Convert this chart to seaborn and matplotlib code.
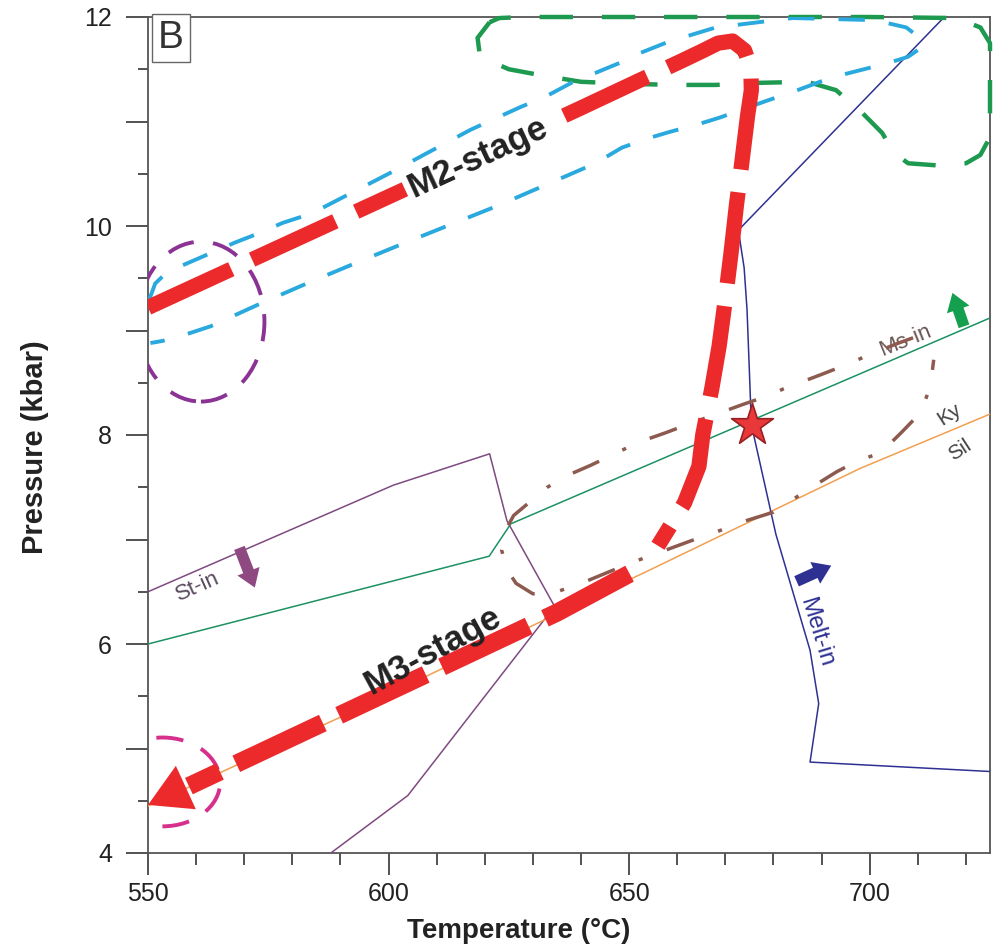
import matplotlib
matplotlib.use("Agg")
import matplotlib.pyplot as plt
import seaborn as sns
from matplotlib.patches import Ellipse
from matplotlib.ticker import MultipleLocator, FuncFormatter

# ---------------- data ----------------
# St-in boundary (purple, thin)
T_stin = [550, 601, 621, 624.6, 634.5, 604, 588]
P_stin = [6.5, 7.52, 7.82, 7.18, 6.36, 4.55, 4.0]

# Ms-in line (green, thin)
T_msin = [550, 620.9, 625.4, 725]
P_msin = [6.0, 6.84, 7.15, 9.12]

# Ky / Sil line (orange, thin)
T_kysil = [550, 590, 631, 653, 698, 725]
P_kysil = [4.45, 5.3, 6.2, 6.68, 7.68, 8.2]

# Melt-in line (navy, thin)
T_melt = [715.5, 672.7, 673.9, 674.5, 675.0, 675.4, 680.5, 687.6, 689.4, 687.6, 725]
P_melt = [12.0, 9.96, 9.6, 9.2, 8.6, 8.1, 7.05, 5.94, 5.43, 4.87, 4.78]

# M2-stage P-T path (red, thick dashed)
T_m2 = [550, 575, 600, 625, 640, 652, 660, 665, 668.5, 671.5, 674, 675.3, 675.4, 674.6,
        673.4, 672.3, 671.2, 670.0, 668.7, 667.2, 665.3, 664.5, 661.5, 656.0]
P_m2 = [9.22, 9.75, 10.28, 10.81, 11.13, 11.39, 11.56, 11.67, 11.75, 11.77, 11.68, 11.5, 11.3, 11.05,
        10.6, 10.2, 9.75, 9.3, 8.85, 8.45, 8.0, 7.7, 7.35, 6.94]

# M3-stage P-T path (red, thicker dashed), drawn from the arrow base upward
T_m3 = [558.5, 635, 652]
P_m3 = [4.64, 6.3, 6.72]
# arrow head: base -> tip
T_m3_tip = [558.5, 550.0]
P_m3_tip = [4.64, 4.46]

# cyan dashed envelope around M2 path
T_cy = [550.3, 551.5, 554, 558, 563, 568, 573, 578, 584, 600, 617, 627.5, 632.3, 638, 648, 652,
        658, 668, 684, 701, 707.6, 711, 710.5, 708, 706, 700.5, 692, 685, 678.7, 675, 669, 664.8,
        658.4, 654, 648.5, 643, 638, 623, 604, 593.4, 583, 573, 563, 557.7, 553, 550.5]
P_cy = [9.3, 9.45, 9.56, 9.64, 9.74, 9.84, 9.93, 10.03, 10.12, 10.5, 10.92, 11.14, 11.23, 11.37, 11.56, 11.65,
        11.76, 11.9, 11.99, 11.97, 11.9, 11.78, 11.7, 11.62, 11.59, 11.52, 11.42, 11.3, 11.2, 11.14, 11.04, 10.98,
        10.9, 10.84, 10.75, 10.6, 10.5, 10.2, 9.85, 9.65, 9.45, 9.25, 9.04, 8.96, 8.9, 8.88]

# green dashed field (top right)
T_gr = [621, 618.5, 619, 625, 632, 640, 650, 660, 668, 677, 687, 693, 698.5, 702.6, 705, 708, 714,
        720, 723, 725, 725, 725, 723, 718, 700, 680, 660, 640, 628, 623, 621]
P_gr = [11.95, 11.8, 11.62, 11.5, 11.44, 11.38, 11.36, 11.35, 11.35, 11.37, 11.38, 11.3, 11.08, 10.89, 10.7, 10.6, 10.58,
        10.6, 10.68, 10.85, 11.3, 11.75, 11.9, 11.99, 12, 12, 12, 12, 12, 11.99, 11.95]

# brown dash-dot lens (Ms-in / Ky region)
T_br = [709, 706, 700, 695, 690, 682, 678.5, 673.5, 669.3, 662.7, 657.5, 651.9, 647, 642, 636.5, 633,
        626, 624.2, 623.5, 624.5, 626.5, 630, 635, 640, 650, 663, 668, 673.6, 679.9, 687.6, 693.2,
        697.4, 702.3, 706.5, 710.5, 712.6, 713.3]
P_br = [8.93, 8.88, 8.77, 8.67, 8.58, 8.44, 8.37, 8.29, 8.22, 8.11, 8.02, 7.93, 7.82, 7.71, 7.6, 7.5,
        7.23, 7.08, 6.9, 6.72, 6.58, 6.48, 6.5, 6.58, 6.77, 6.99, 7.07, 7.17, 7.26, 7.49, 7.65,
        7.75, 7.83, 8.02, 8.21, 8.46, 8.72]

# dashed circles (center T, center P, width T, height P)
circ_purple = (561.0, 9.085, 26.4, 1.53)
circ_pink = (553.0, 4.68, 24.0, 0.85)

# peak star
T_star = [675.5]
P_star = [8.1]

# small block arrows: (T_tail, P_tail, T_head, P_head)
arr_stin = (569.0, 6.92, 572.2, 6.54)
arr_melt = (684.8, 6.60, 692.0, 6.75)
arr_msin = (719.6, 9.04, 717.2, 9.36)

# tick values
x_major = [550, 600, 650, 700]
y_labels = [4, 6, 8, 10, 12]

# ---------------- style ----------------
sns.set_theme(style="ticks")
plt.rcParams["font.family"] = ["Liberation Sans", "DejaVu Sans"]

RED = "#ec2a2c"
CYAN = "#2aa9df"
GREEN_D = "#1e9a50"
PURPLE_C = "#8a3394"
PINK_C = "#d6308c"
STIN = "#7e4a80"
MSIN = "#1c9162"
KYSIL = "#f0a050"
MELT = "#2e3192"
BROWN = "#8c5a4e"

fig = plt.figure(figsize=(9.94, 9.5), dpi=100)
ax = fig.add_axes([148 / 994, 1 - 853 / 950, 842 / 994, 836 / 950])
ax.set_xlim(550, 725)
ax.set_ylim(4, 12)
ax.set_facecolor("white")


def line(T, P, **kw):
    sns.lineplot(x=T, y=P, sort=False, estimator=None, errorbar=None, ax=ax, legend=False, **kw)


# thin phase boundaries
line(T_stin, P_stin, color=STIN, lw=1.1, zorder=3)
line(T_msin, P_msin, color=MSIN, lw=1.1, zorder=3)
line(T_kysil, P_kysil, color=KYSIL, lw=1.1, zorder=3)
line(T_melt, P_melt, color=MELT, lw=1.1, zorder=3)

# dashed fields
line(T_gr, P_gr, color=GREEN_D, lw=3.2, linestyle=(0, (7.5, 6.5)), zorder=4, clip_on=False)
line(T_cy, P_cy, color=CYAN, lw=2.8, linestyle=(0, (6.8, 6.2)), zorder=4)
line(T_br, P_br, color=BROWN, lw=2.5, linestyle=(0, (8.3, 7.4, 1.2, 7.4)), zorder=4)

for (cx, cy, w, h), c in [(circ_purple, PURPLE_C), (circ_pink, PINK_C)]:
    ax.add_patch(Ellipse((cx, cy), w, h, fill=False, ec=c, lw=2.8,
                         ls=(0, (7.0, 5.0)), zorder=4))

# P-T paths
line(T_m2, P_m2, color=RED, lw=11, linestyle=(0, (6.0, 1.5)), zorder=6,
     dash_joinstyle="round")
line(T_m3, P_m3, color=RED, lw=13, linestyle=(3.4, (5.3, 1.0)), zorder=6)
ax.annotate("", xy=(T_m3_tip[1], P_m3_tip[1]), xytext=(T_m3_tip[0], P_m3_tip[0]),
            arrowprops=dict(arrowstyle="-|>,head_length=1.5,head_width=0.86",
                            mutation_scale=20, color=RED, lw=0, shrinkA=0, shrinkB=0),
            zorder=7)

# block arrows
for (t0, p0, t1, p1), c in [(arr_stin, "#8e4a80"), (arr_melt, MELT), (arr_msin, "#14a04e")]:
    ax.annotate("", xy=(t1, p1), xytext=(t0, p0),
                arrowprops=dict(arrowstyle="simple,head_length=0.7,head_width=0.95,tail_width=0.45",
                                mutation_scale=18, color=c, lw=0, shrinkA=0, shrinkB=0),
                zorder=5)

# star
sns.scatterplot(x=T_star, y=P_star, marker="*", s=1000, color="#e8383a",
                edgecolor="#9a1f22", linewidth=1.2, ax=ax, zorder=9, legend=False)

# labels on plot
ax.text(618.5, 10.66, "M2-stage", rotation=24.9, rotation_mode="anchor", ha="center", va="center",
        fontsize=25, fontweight="bold", color="#222",
        bbox=dict(boxstyle="square,pad=0.12", fc="white", ec="none"), zorder=8)
ax.text(609.2, 5.94, "M3-stage", rotation=28.5, rotation_mode="anchor", ha="center", va="center",
        fontsize=25, fontweight="bold", color="#222", zorder=8)
ax.text(560.4, 6.55, "St-in", rotation=24, rotation_mode="anchor", ha="center", va="center",
        fontsize=16, color="#5a4a5e", zorder=5)
ax.text(707.5, 8.9, "Ms-in", rotation=22, rotation_mode="anchor", ha="center", va="center",
        fontsize=16, color="#6a5555", zorder=3)
ax.text(716.5, 8.2, "Ky", rotation=33, rotation_mode="anchor", ha="center", va="center",
        fontsize=15, color="#444", zorder=5)
ax.text(718.8, 7.86, "Sil", rotation=33, rotation_mode="anchor", ha="center", va="center",
        fontsize=15, color="#444", zorder=5)
ax.text(688.9, 6.11, "Melt-in", rotation=-73, rotation_mode="anchor", ha="center", va="center",
        fontsize=17, color=MELT, zorder=5)
ax.text(0.027, 0.975, "B", transform=ax.transAxes, ha="center", va="center", fontsize=28,
        color="#333", bbox=dict(boxstyle="square,pad=0.16", fc="white", ec="#666", lw=1.0), zorder=10)

# axes, ticks
ax.xaxis.set_major_locator(MultipleLocator(50))
ax.xaxis.set_minor_locator(MultipleLocator(10))
ax.yaxis.set_major_locator(MultipleLocator(1))
ax.yaxis.set_minor_locator(MultipleLocator(0.5))
ax.yaxis.set_major_formatter(FuncFormatter(lambda v, p: f"{int(round(v))}" if int(round(v)) in y_labels else ""))
ax.xaxis.set_major_formatter(FuncFormatter(lambda v, p: f"{int(round(v))}" if int(round(v)) in x_major else ""))

ax.tick_params(axis="x", which="major", length=16, width=1.3, pad=5, labelsize=18, colors="#444",
               labelcolor="#222")
ax.tick_params(axis="x", which="minor", length=8.5, width=1.3, colors="#444")
ax.tick_params(axis="y", which="major", length=16, width=1.3, pad=10, labelsize=18, colors="#444",
               labelcolor="#222")
ax.tick_params(axis="y", which="minor", length=7, width=1.3, colors="#444")
for s in ax.spines.values():
    s.set_visible(True)
    s.set_color("#555")
    s.set_linewidth(1.3)

ax.set_xlabel("Temperature (°C)", fontsize=20, fontweight="bold", color="#222")
ax.set_ylabel("Pressure (kbar)", fontsize=21, fontweight="bold", color="#222")
ax.xaxis.set_label_coords(0.44, -0.078)
ax.yaxis.set_label_coords(-0.118, 0.486)

fig.savefig("out.png", dpi=100, facecolor="white")
